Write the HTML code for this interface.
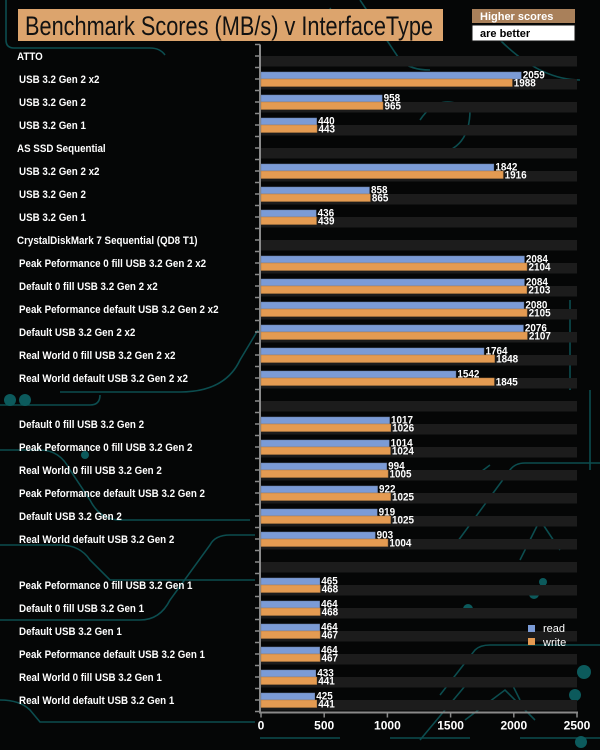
<!DOCTYPE html>
<html><head><meta charset="utf-8"><style>
html,body{margin:0;padding:0;background:#050505;}
svg{display:block;}
text{font-family:"Liberation Sans",Arial,sans-serif;}
</style></head><body>
<svg id="chart" width="600" height="750" viewBox="0 0 600 750" xmlns="http://www.w3.org/2000/svg">
<rect x="0" y="0" width="600" height="750" fill="#050606"/>
<g fill="none" stroke="#0c4d4f" stroke-width="1.6">
<path d="M6 0 V40 Q6 48 14 48 H150 Q160 48 165 55"/>
<path d="M0 405 H90 Q100 405 100 395"/>
<path d="M60 392 H180 Q225 392 240 360 L258 330"/>
<path d="M0 450 H40 Q60 450 70 470 L90 500 Q100 520 120 520 H250"/>
<path d="M0 545 H60 Q80 545 90 560 L110 580 H255"/>
<path d="M0 620 H140 Q160 620 170 600 L210 545 Q215 535 230 535 H255"/>
<path d="M0 700 Q20 700 30 710 L40 722 H255"/>
<path d="M260 738 H340 M390 738 H470 M520 738 H600"/>
<path d="M420 740 L470 680 H510 L520 700"/>
<path d="M440 695 L475 650 Q480 645 490 645 H600"/>
<path d="M465 720 L505 690 L535 720"/>
<path d="M470 480 L490 465 M520 560 L540 520 L560 550"/>
<path d="M455 545 L510 470 Q515 463 525 463 H600"/>
<path d="M590 390 V470 M570 300 V390"/>
<path d="M330 8 L340 30 M360 0 L400 60 Q410 70 430 70"/>
<path d="M420 120 Q440 90 470 110 Q470 140 450 150"/>
<path d="M500 40 Q540 80 580 80"/>
</g>
<g fill="#0c5a5c">
<circle cx="10" cy="400" r="6"/><circle cx="25" cy="400" r="6"/>
<circle cx="468" cy="609" r="5"/><circle cx="584" cy="672" r="7"/>
<circle cx="581" cy="742" r="6"/><circle cx="534" cy="594" r="5"/>
<circle cx="543" cy="582" r="4"/><circle cx="515" cy="613" r="4"/>
<circle cx="85" cy="455" r="4"/><circle cx="575" cy="695" r="6"/>
</g>
<g id="plot"></g>
<g>
<rect x="18" y="9" width="425" height="32" fill="#dca46d"/>
<text x="25" y="35" font-size="27" fill="#111" textLength="408" lengthAdjust="spacingAndGlyphs">Benchmark Scores (MB/s) v InterfaceType</text>
</g>
<g>
<rect x="472" y="9" width="103" height="14" fill="#a9805a"/>
<text x="480" y="20" font-size="11" font-weight="bold" fill="#fff">Higher scores</text>
<rect x="472" y="25" width="103" height="16" fill="#fff" stroke="#111" stroke-width="1"/>
<text x="480" y="37" font-size="11" font-weight="bold" fill="#000">are better</text>
</g>
<g>
<rect x="528" y="625" width="7" height="7" fill="#7b9bd6"/>
<text x="543" y="632" font-size="11" fill="#fff">read</text>
<rect x="528" y="638" width="7" height="7" fill="#e49b52"/>
<text x="543" y="646" font-size="11" fill="#fff">write</text>
</g>
</svg>
<script>
const categories = ["ATTO","USB 3.2 Gen 2 x2","USB 3.2 Gen 2","USB 3.2 Gen 1","AS SSD Sequential","USB 3.2 Gen 2 x2","USB 3.2 Gen 2","USB 3.2 Gen 1","CrystalDiskMark 7 Sequential (QD8 T1)","Peak Peformance 0 fill USB 3.2 Gen 2 x2","Default 0 fill USB 3.2 Gen 2 x2","Peak Peformance default USB 3.2 Gen 2 x2","Default USB 3.2 Gen 2 x2","Real World 0 fill USB 3.2 Gen 2 x2","Real World default USB 3.2 Gen 2 x2","","Default 0 fill USB 3.2 Gen 2","Peak Peformance 0 fill USB 3.2 Gen 2","Real World 0 fill USB 3.2 Gen 2","Peak Peformance default USB 3.2 Gen 2","Default USB 3.2 Gen 2","Real World default USB 3.2 Gen 2","","Peak Peformance 0 fill USB 3.2 Gen 1","Default 0 fill USB 3.2 Gen 1","Default USB 3.2 Gen 1","Peak Peformance default USB 3.2 Gen 1","Real World 0 fill USB 3.2 Gen 1","Real World default USB 3.2 Gen 1"];
const readValues = [null,2059,958,440,null,1842,858,436,null,2084,2084,2080,2076,1764,1542,null,1017,1014,994,922,919,903,null,465,464,464,464,433,425];
const writeValues = [null,1988,965,443,null,1916,865,439,null,2104,2103,2105,2107,1848,1845,null,1026,1024,1005,1025,1025,1004,null,468,468,467,467,441,441];
const xTicks = [0,500,1000,1500,2000,2500];

const NS = "http://www.w3.org/2000/svg";
const plot = document.getElementById('plot');
const X0 = 261, X1 = 577, XMAX = 2500;
const TOP = 44.5, BOT = 711.5;
const band = (BOT - TOP) / categories.length;
function xs(v){ return X0 + (v / XMAX) * (X1 - X0); }
function yc(i){ return TOP + band * (i + 0.5); }
function mk(tag, attrs){ const e = document.createElementNS(NS, tag); for (const k in attrs) e.setAttribute(k, attrs[k]); plot.appendChild(e); return e; }

categories.forEach((c, i) => {
  const s = mk('rect', {x: X0, y: yc(i), width: X1 - X0, height: 10.5, fill: '#1c1c1c'});
  
  
});
// axis
const ax = mk('line', {x1: 260, y1: TOP, x2: 260, y2: BOT + 1, stroke: '#8a8a8a', 'stroke-width': 2});


const bx = mk('line', {x1: 259, y1: BOT + 1, x2: X1 + 1, y2: BOT + 1, stroke: '#8a8a8a', 'stroke-width': 2});


for (let k = 0; k <= categories.length * 2; k++) {
  const y = TOP + k * band / 2;
  const t = mk('line', {x1: 255, y1: y, x2: 260, y2: y, stroke: '#8a8a8a', 'stroke-width': 1.5});
  
  
}
xTicks.forEach(v => {
  const t = mk('line', {x1: xs(v), y1: BOT, x2: xs(v), y2: BOT + 6, stroke: '#8a8a8a', 'stroke-width': 1.5});
  
  
  const l = mk('text', {x: xs(v), y: BOT + 18, 'font-size': 12, 'font-weight': 'bold', fill: '#fff', 'text-anchor': 'middle'});
  l.textContent = String(v);
  
  
});
categories.forEach((c, i) => {
  const y = yc(i);
  if (c) {
    const isHeader = readValues[i] == null;
    const t = mk('text', {x: 0, y: 0, 'font-size': 11, 'font-weight': 'bold', fill: '#fff', transform: `translate(${isHeader ? 17 : 19},${y + 4}) scale(0.89,1)`});
    t.textContent = c;
    
    
  }
  if (readValues[i] != null) {
    const r = mk('rect', {x: X0, y: y - 7, width: xs(readValues[i]) - X0, height: 7, fill: '#7b9bd6', stroke: '#6a7fa8', 'stroke-width': 0.5});
    
    
    const rl = mk('text', {x: 0, y: 0, 'font-size': 11, 'font-weight': 'bold', fill: '#fff', transform: `translate(${xs(readValues[i]) + 1.5},${y - 0.5}) scale(0.9,1)`});
    rl.textContent = readValues[i];
    
    
  }
  if (writeValues[i] != null) {
    const w = mk('rect', {x: X0, y: y, width: xs(writeValues[i]) - X0, height: 7.5, fill: '#e49b52', stroke: '#b07a40', 'stroke-width': 0.5});
    
    
    const wl = mk('text', {x: 0, y: 0, 'font-size': 11, 'font-weight': 'bold', fill: '#fff', transform: `translate(${xs(writeValues[i]) + 1.5},${y + 7.5}) scale(0.9,1)`});
    wl.textContent = writeValues[i];
    
    
  }
});
</script>
</body></html>
